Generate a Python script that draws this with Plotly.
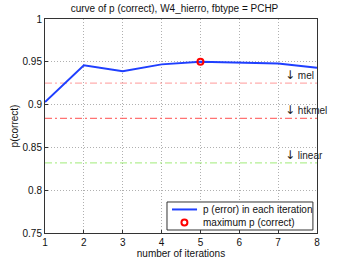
import plotly.graph_objects as go

iterations = [1, 2, 3, 4, 5, 6, 7, 8]
p_correct = [0.903, 0.946, 0.939, 0.947, 0.950, 0.949, 0.948, 0.943]
best_iter = [5]
best_p = [0.950]
ref_names = ["mel", "htkmel", "linear"]
ref_values = [0.925, 0.884, 0.832]
ref_colors = ["rgba(255,120,120,0.6)", "rgba(255,90,90,0.85)", "rgba(140,230,90,0.65)"]
xticks = [1, 2, 3, 4, 5, 6, 7, 8]
yticks = [0.75, 0.8, 0.85, 0.9, 0.95, 1]
ytick_text = ["0.75", "0.8", "0.85", "0.9", "0.95", "1"]
legend_labels = ["p (error) in each iteration", "maximum p (correct)"]

font = "Liberation Sans, Arial, sans-serif"
line_color = "#1f3fff"
fig = go.Figure()

for name, val, col in zip(ref_names, ref_values, ref_colors):
    fig.add_trace(go.Scatter(x=[iterations[0], iterations[-1]], y=[val, val], mode="lines",
                             line=dict(color=col, width=1.2, dash="7px,3px,2px,3px"),
                             showlegend=False, hoverinfo="skip"))
    fig.add_annotation(x=7.12, y=val, text="<span style='font-family:DejaVu Sans;font-size:12px'>↓</span> " + name,
                       showarrow=False, xanchor="left", yanchor="bottom", yshift=-1,
                       font=dict(family=font, size=10, color="#222"))

fig.add_trace(go.Scatter(x=iterations, y=p_correct, mode="lines",
                         line=dict(color=line_color, width=2),
                         name=legend_labels[0], showlegend=False))
fig.add_trace(go.Scatter(x=best_iter, y=best_p, mode="markers",
                         marker=dict(symbol="circle-open", color="red", size=6,
                                     line=dict(width=2, color="red")),
                         name=legend_labels[1], showlegend=False))

# manual MATLAB-style legend box
lx0, lx1, ly0, ly1 = 0.4485, 0.985, 0.014, 0.1449
row_y = [0.110, 0.049]
fig.add_shape(type="rect", xref="paper", yref="paper", x0=lx0, x1=lx1, y0=ly0, y1=ly1,
              fillcolor="white", line=dict(color="#333", width=1), layer="above")
fig.add_shape(type="line", xref="paper", yref="paper", x0=0.467, x1=0.559, y0=row_y[0], y1=row_y[0],
              line=dict(color=line_color, width=2), layer="above")
fig.add_shape(type="circle", xref="paper", yref="paper", xsizemode="pixel", ysizemode="pixel",
              xanchor=0.5126, yanchor=row_y[1], x0=-3, x1=3, y0=-3, y1=3,
              line=dict(color="red", width=2), layer="above")
for lab, ry in zip(legend_labels, row_y):
    fig.add_annotation(xref="paper", yref="paper", x=0.5735, y=ry, text=lab, showarrow=False,
                       xanchor="left", yanchor="middle", font=dict(family=font, size=10, color="#111"))

axis_common = dict(showline=True, linecolor="#333", linewidth=1, mirror=True,
                   ticks="inside", ticklen=3, tickcolor="#333", automargin=False,
                   showgrid=True, gridcolor="#b0b0b0", griddash="1px,2px", gridwidth=1,
                   zeroline=False, tickfont=dict(family=font, size=10, color="#111"))

fig.update_xaxes(range=[1, 8], tickvals=xticks,
                 title=dict(text="number of iterations", font=dict(family=font, size=10, color="#111"),
                            standoff=0), **axis_common)
fig.update_yaxes(range=[0.75, 1], tickvals=yticks, ticktext=ytick_text,
                 title=dict(text="p(correct)", font=dict(family=font, size=10, color="#111"),
                            standoff=2), **axis_common)

fig.update_layout(
    width=349, height=263,
    margin=dict(l=45, r=32, t=19, b=30, autoexpand=False),
    paper_bgcolor="white", plot_bgcolor="white", showlegend=False,
    title=dict(text="curve of p (correct), W4_hierro, fbtype = PCHP", x=0.5, xanchor="center",
               y=0.98, yanchor="top", font=dict(family=font, size=10, color="#111")),
)

fig.write_html("out.html", config={"displayModeBar": False},
               post_script="document.body.style.margin='0';document.body.style.overflow='hidden';")
